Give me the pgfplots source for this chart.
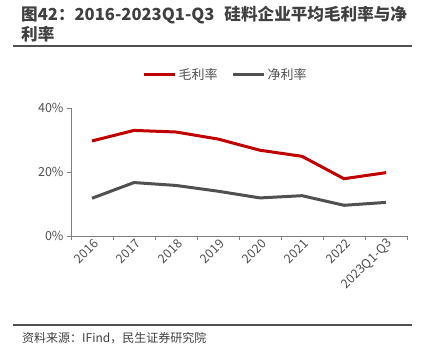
\documentclass[border=0pt]{standalone}
\usepackage{fontspec}
\setmainfont{Noto Sans CJK SC}
\usepackage{pgfplots}
\pgfplotsset{compat=1.18}
\definecolor{myred}{HTML}{C00000}
\definecolor{mygray}{HTML}{505050}
\definecolor{txt}{HTML}{404040}
\definecolor{axgray}{HTML}{808080}
\begin{document}
\begin{tikzpicture}
\path[use as bounding box] (0,0) rectangle (427pt,-361pt);
\node[anchor=north west, inner sep=0pt, align=left, text=txt, font=\fontsize{16.6}{19.5}\selectfont\bfseries] at (21pt,-6pt) {图42：2016-2023Q1-Q3\hspace{0.6em}硅料企业平均毛利率与净\\利率};
\draw[mygray, line width=1.5pt] (13pt,-46pt) -- (412pt,-46pt);
\draw[mygray, line width=1.5pt] (13pt,-325pt) -- (412pt,-325pt);
\node[anchor=west, inner sep=0pt, text=txt, font=\fontsize{12}{14}\selectfont] at (22pt,-338pt) {资料来源：IFind，民生证券研究院};
\begin{axis}[
  at={(71pt,-236pt)}, anchor=south west,
  scale only axis, width=336pt, height=128pt,
  xmin=-0.5, xmax=7.5, ymin=0, ymax=40,
  axis x line*=bottom, axis y line*=left,
  axis line style={axgray, line width=0.8pt},
  xtick={0,1,2,3,4,5,6,7},
  xticklabels={2016,2017,2018,2019,2020,2021,2022,2023Q1-Q3},
  major x tick style={draw=none},
  minor xtick={-0.5,0.5,1.5,2.5,3.5,4.5,5.5,6.5,7.5},
  minor x tick style={axgray, line width=0.8pt},
  ytick={0,20,40},
  yticklabels={0\%,20\%,40\%},
  y tick style={axgray, line width=0.8pt},
  tick align=outside,
  major tick length=4pt, minor tick length=4pt,
  xticklabel style={rotate=45, anchor=east, text=mygray, font=\fontsize{12.5}{14}\selectfont, xshift=3pt, yshift=-4pt, inner sep=1pt},
  yticklabel style={text=mygray, font=\fontsize{12.5}{14}\selectfont},
  legend style={at={(0.46,1.26)}, anchor=center, draw=none, fill=none,
    legend columns=2, font=\fontsize{13}{15}\selectfont, text=mygray,
    /tikz/every even column/.append style={column sep=12pt}},
  legend image code/.code={\draw[#1] (0pt,0pt) -- (31pt,0pt);},
  clip=false,
]
\addplot[myred, line width=3pt] coordinates {(0,29.7) (1,33.0) (2,32.5) (3,30.3) (4,26.8) (5,24.9) (6,17.9) (7,19.8)};
\addlegendentry{毛利率}
\addplot[mygray, line width=3pt] coordinates {(0,11.8) (1,16.7) (2,15.8) (3,14.0) (4,11.9) (5,12.6) (6,9.6) (7,10.5)};
\addlegendentry{净利率}
\end{axis}
\end{tikzpicture}
\end{document}
